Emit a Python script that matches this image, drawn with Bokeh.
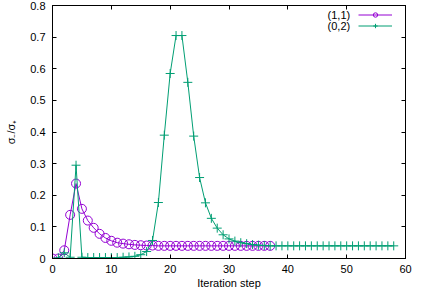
from bokeh.plotting import figure
from bokeh.models import LinearAxis, FixedTicker, Range1d, Legend, LegendItem, Label
from bokeh.core.properties import value
from bokeh.embed import file_html
from bokeh.resources import INLINE

# ---- data ----
steps_11 = [0, 1, 2, 3, 4, 5, 6, 7, 8, 9, 10, 11, 12, 13, 14, 15, 16, 17, 18, 19,
            20, 21, 22, 23, 24, 25, 26, 27, 28, 29, 30, 31, 32, 33, 34, 35, 36, 37]
ratio_11 = [0.0, 0.0, 0.026, 0.138, 0.237, 0.157, 0.12, 0.097, 0.078, 0.065,
            0.056, 0.05, 0.047, 0.045, 0.043, 0.042, 0.041, 0.041, 0.04, 0.04,
            0.04, 0.04, 0.04, 0.04, 0.04, 0.04, 0.04, 0.04, 0.04, 0.04,
            0.04, 0.04, 0.04, 0.04, 0.04, 0.04, 0.04, 0.04]

steps_02 = [0, 1, 2, 3, 4, 5, 6, 7, 8, 9, 10, 11, 12, 13, 14, 15, 16, 17, 18, 19,
            20, 21, 22, 23, 24, 25, 26, 27, 28, 29, 30, 31, 32, 33, 34, 35, 36, 37,
            38, 39, 40, 41, 42, 43, 44, 45, 46, 47, 48, 49, 50, 51, 52, 53, 54, 55,
            56, 57, 58]
ratio_02 = [0.0, 0.002, 0.018, 0.004, 0.295, 0.004, 0.003, 0.003, 0.003, 0.003,
            0.003, 0.003, 0.004, 0.005, 0.007, 0.012, 0.022, 0.057, 0.177, 0.39,
            0.585, 0.705, 0.705, 0.557, 0.387, 0.256, 0.176, 0.127, 0.096, 0.075,
            0.062, 0.055, 0.05, 0.047, 0.044, 0.042, 0.041, 0.04, 0.04, 0.04,
            0.04, 0.04, 0.04, 0.04, 0.04, 0.04, 0.04, 0.04, 0.04, 0.04,
            0.04, 0.04, 0.04, 0.04, 0.04, 0.04, 0.04, 0.04, 0.04]

series_names = ["(1,1)", "(0,2)"]
x_ticks = [0, 10, 20, 30, 40, 50, 60]
y_ticks = [0, 0.1, 0.2, 0.3, 0.4, 0.5, 0.6, 0.7, 0.8]
y_tick_labels = ["0", "0.1", "0.2", "0.3", "0.4", "0.5", "0.6", "0.7", "0.8"]

PURPLE = "#9400d3"
GREEN = "#009e73"
FONT = "Liberation Sans"
FS = "11px"

p = figure(frame_width=353, frame_height=253,
           min_border_left=52, min_border_right=15,
           min_border_top=5, min_border_bottom=31,
           x_range=Range1d(0, 60), y_range=Range1d(0, 0.8),
           output_backend="svg", toolbar_location=None,
           x_axis_label="Iteration step", y_axis_label="σ₋/σ₊")
p.grid.visible = False
p.outline_line_color = "black"
p.outline_line_width = 1
p.background_fill_color = "white"
p.border_fill_color = "white"

l1 = p.line(steps_11, ratio_11, color=PURPLE, line_width=1)
s1 = p.scatter(steps_11, ratio_11, marker="circle", size=9, line_color=PURPLE,
               fill_color=None, line_width=1)
l2 = p.line(steps_02, ratio_02, color=GREEN, line_width=1)
s2 = p.scatter(steps_02, ratio_02, marker="cross", size=9, line_color=GREEN,
               line_width=1)

def style(ax, ticks, labels=True):
    ax.ticker = FixedTicker(ticks=ticks)
    ax.major_tick_in = 4
    ax.major_tick_out = 0
    ax.minor_tick_line_color = None
    ax.axis_line_color = "black"
    ax.major_tick_line_color = "black"
    ax.major_label_text_font = FONT
    ax.major_label_text_color = "black"
    ax.axis_label_text_font = FONT
    ax.axis_label_text_font_style = "normal"
    ax.axis_label_text_font_size = FS
    ax.axis_label_text_color = "black"
    if labels:
        ax.major_label_text_font_size = FS
    else:
        ax.major_label_text_font_size = "1px"
        ax.major_label_text_color = None
        ax.major_label_standoff = 0

style(p.xaxis[0], x_ticks)
p.xaxis[0].major_label_standoff = 6
p.xaxis[0].axis_label_standoff = 1
style(p.yaxis[0], y_ticks)
p.yaxis[0].major_label_overrides = {t: l for t, l in zip(y_ticks, y_tick_labels)}
p.yaxis[0].major_label_standoff = 7
p.yaxis[0].axis_label_standoff = 10

top = LinearAxis()
style(top, x_ticks, labels=False)
p.add_layout(top, "above")
right = LinearAxis()
style(right, y_ticks, labels=False)
p.add_layout(right, "right")

# gnuplot-style key: sample glyphs on the right, titles right-aligned on the left
lg = Legend(items=[LegendItem(label=value(" "), renderers=[l1, s1]),
                   LegendItem(label=value(" "), renderers=[l2, s2])],
            location=(306, 227), margin=0, padding=0, spacing=0,
            border_line_color=None, background_fill_alpha=0,
            glyph_width=34, glyph_height=11, label_height=11, label_width=1,
            label_standoff=0, label_text_font_size="2px")
p.add_layout(lg)

key_x = 50.6
key_y = [0.770, 0.735]
for name, ky in zip(series_names, key_y):
    p.add_layout(Label(x=key_x, y=ky, text=name, text_align="right",
                       text_baseline="middle", text_font=FONT,
                       text_font_size=FS, text_color="black"))

open("out.html", "w").write(file_html(p, INLINE))
